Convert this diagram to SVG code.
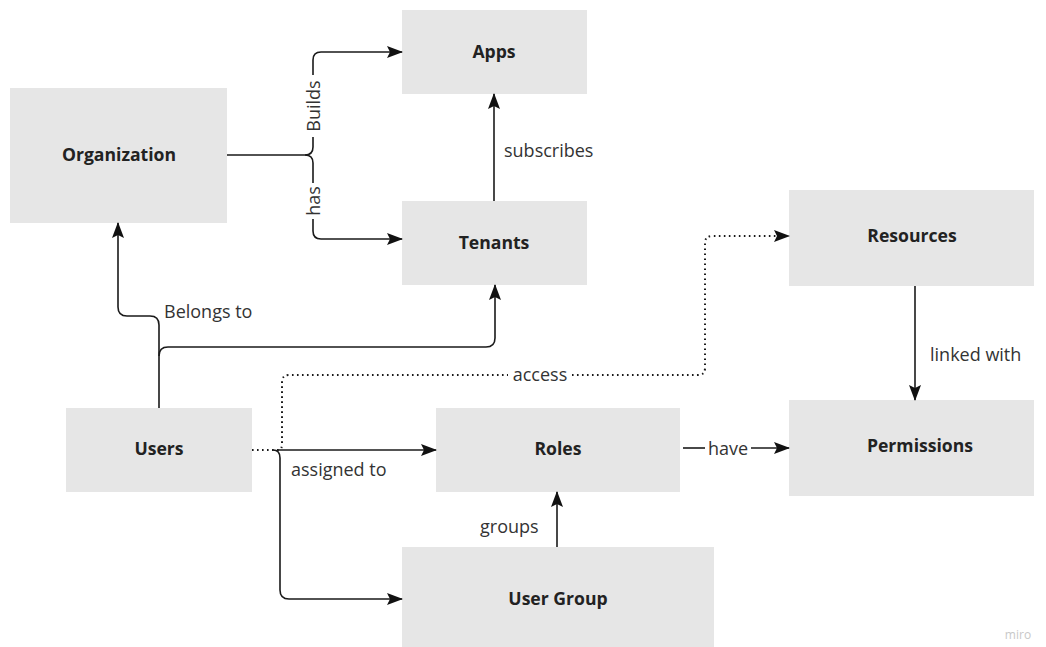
<svg xmlns="http://www.w3.org/2000/svg" width="1046" height="647" viewBox="0 0 1046 647">
  <defs>
    <marker id="arrow" markerUnits="userSpaceOnUse" markerWidth="16" markerHeight="12" refX="15" refY="6" orient="auto">
      <path d="M0,0 L16,6 L0,12 L3,6 Z" fill="#111"/>
    </marker>
    <style>
      .node rect { fill: #e6e6e6; }
      .node text { font-family: "Open Sans", "Noto Sans", sans-serif; font-weight: 700; font-size: 17.6px; fill: #222; text-anchor: middle; }
      .edge { fill: none; stroke: #1a1a1a; stroke-width: 1.6; }
      .dotted { stroke-dasharray: 1.6 3.4; stroke-width: 2; }
      .lbl { font-family: "Open Sans", "Noto Sans", sans-serif; font-size: 18px; fill: #333; }
      .bg { fill: #ffffff; }
    </style>
  </defs>
  <rect width="1046" height="647" fill="#ffffff"/>

  <!-- nodes -->
  <g id="apps" class="node"><rect x="402" y="10" width="185" height="84"/><text x="494" y="58">Apps</text></g>
  <g id="organization" class="node"><rect x="10" y="88" width="217" height="135"/><text x="119" y="161">Organization</text></g>
  <g id="tenants" class="node"><rect x="402" y="201" width="185" height="84"/><text x="494" y="249">Tenants</text></g>
  <g id="resources" class="node"><rect x="789" y="190" width="245" height="96"/><text x="912" y="242">Resources</text></g>
  <g id="users" class="node"><rect x="66" y="408" width="186" height="84"/><text x="159" y="455">Users</text></g>
  <g id="roles" class="node"><rect x="436" y="408" width="244" height="84"/><text x="558" y="455">Roles</text></g>
  <g id="permissions" class="node"><rect x="789" y="400" width="245" height="96"/><text x="920" y="452">Permissions</text></g>
  <g id="user-group" class="node"><rect x="402" y="547" width="312" height="100"/><text x="558" y="605">User Group</text></g>

  <!-- connectors -->
  <g id="connectors">
    <!-- Organization: builds / has brace -->
    <path class="edge" d="M227,155 H305 Q313,155 313,147 V60 Q313,52 321,52 H402" marker-end="url(#arrow)"/>
    <path class="edge" d="M305,155 Q313,155 313,163 V231 Q313,239 321,239 H402" marker-end="url(#arrow)"/>
    <rect class="bg" x="303" y="75" width="20" height="62"/>
    <text class="lbl" transform="translate(313,106) rotate(-90)" text-anchor="middle" dominant-baseline="central">Builds</text>
    <rect class="bg" x="303" y="183" width="20" height="36"/>
    <text class="lbl" transform="translate(313,201) rotate(-90)" text-anchor="middle" dominant-baseline="central">has</text>

    <!-- Tenants subscribes Apps -->
    <path class="edge" d="M494,201 V94" marker-end="url(#arrow)"/>
    <text class="lbl" x="504" y="157">subscribes</text>

    <!-- Users belongs to Organization / Tenants -->
    <path class="edge" d="M159,408 V325 Q159,316 150,316 H127 Q118,316 118,307 V223" marker-end="url(#arrow)"/>
    <path class="edge" d="M159,356 Q159,347 168,347 H486 Q495,347 495,338 V285" marker-end="url(#arrow)"/>
    <text class="lbl" x="164" y="318">Belongs to</text>

    <!-- Users access Resources (dotted) -->
    <path class="edge dotted" d="M252,450 H278 Q282,450 282,444 V382 Q282,375 289,375 H698 Q705,375 705,368 V243 Q705,236 712,236 H789" marker-end="url(#arrow)"/>
    <rect class="bg" x="508" y="364" width="64" height="24"/>
    <text class="lbl" x="540" y="381" text-anchor="middle">access</text>

    <!-- Users assigned to Roles / User Group -->
    <path class="edge" d="M277,450 H436" marker-end="url(#arrow)"/>
    <path class="edge" d="M273,450 Q280,450 280,458 V590 Q280,599 289,599 H402" marker-end="url(#arrow)"/>
    <text class="lbl" x="291" y="476">assigned to</text>

    <!-- Roles have Permissions -->
    <path class="edge" d="M683,448 H705"/>
    <path class="edge" d="M751,448 H789" marker-end="url(#arrow)"/>
    <text class="lbl" x="728" y="455" text-anchor="middle">have</text>

    <!-- Resources linked with Permissions -->
    <path class="edge" d="M915,286 V400" marker-end="url(#arrow)"/>
    <text class="lbl" x="930" y="361">linked with</text>

    <!-- User Group groups Roles -->
    <path class="edge" d="M557,547 V492" marker-end="url(#arrow)"/>
    <text class="lbl" x="480" y="533">groups</text>
  </g>

  <text x="1018" y="639" text-anchor="middle" font-family="Open Sans, sans-serif" font-size="12" fill="#c8c8c8">miro</text>
</svg>
